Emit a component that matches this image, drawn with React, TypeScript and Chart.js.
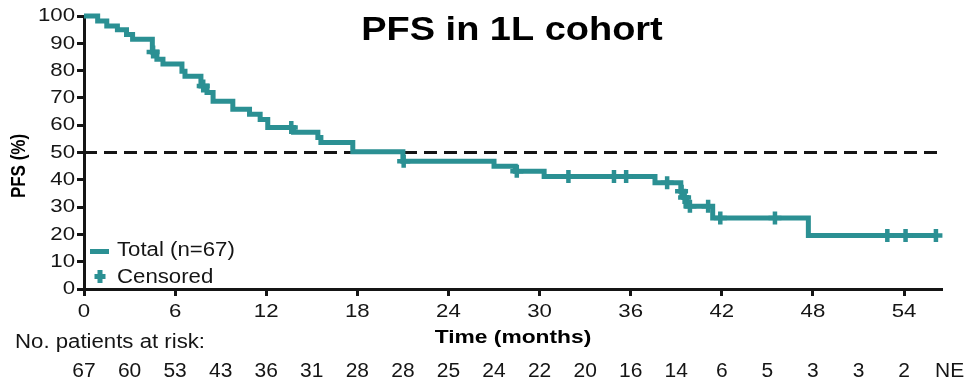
import React, { useEffect, useRef } from "react";
import { Chart, registerables } from "chart.js";

Chart.register(...registerables);

const TEAL = "#2b9093";
const INK = "#151515";
const FONT = '"Liberation Sans", Arial, sans-serif';

// Kaplan–Meier steps: month of each drop and PFS (%) right after it
const stepMonths = [0, 0.9, 1.5, 2.2, 2.8, 3.2, 4.5, 4.8, 5.2, 6.45, 6.65, 7.7, 8.1, 8.5, 9.8, 10.9, 11.6, 12.1, 13.8, 15.4, 15.6, 17.7, 21.0, 27.0, 28.4, 30.3, 37.6, 39.3, 39.5, 39.7, 41.4, 47.7, 56.1];
const stepPfs = [100, 98.2, 96.3, 95.0, 93.2, 91.5, 86.8, 84.2, 82.4, 79.8, 77.9, 74.4, 72.0, 68.8, 65.8, 64.0, 62.1, 59.2, 57.4, 55.5, 53.7, 50.3, 46.8, 45.0, 43.1, 41.2, 38.9, 35.8, 33.5, 30.3, 26.0, 19.6, 19.6];

// Censoring times (months)
const censorMonths = [4.55, 7.85, 13.65, 21.05, 28.5, 31.9, 34.9, 35.7, 38.4, 39.35, 39.55, 39.9, 41.1, 41.9, 45.5, 52.9, 54.1, 56.1];

const medianLine = 50;
const xTicks = [0, 6, 12, 18, 24, 30, 36, 42, 48, 54];
const yTicks = [0, 10, 20, 30, 40, 50, 60, 70, 80, 90, 100];

// Number at risk every 3 months
const riskMonths = [0, 3, 6, 9, 12, 15, 18, 21, 24, 27, 30, 33, 36, 39, 42, 45, 48, 51, 54, 57];
const riskCounts = ["67", "60", "53", "43", "36", "31", "28", "28", "25", "24", "22", "20", "16", "14", "6", "5", "3", "3", "2", "NE"];

const pfsAt = (t: number) => {
  let v = stepPfs[0];
  for (let i = 0; i < stepMonths.length; i++) if (stepMonths[i] <= t) v = stepPfs[i];
  return v;
};

// Draws a line of text slightly widened horizontally
function put(
  ctx: CanvasRenderingContext2D,
  text: string,
  x: number,
  y: number,
  font: string,
  align: "left" | "center" | "right",
  sx: number,
  color = INK
) {
  ctx.save();
  ctx.font = font;
  ctx.fillStyle = color;
  ctx.textBaseline = "middle";
  ctx.textAlign = "left";
  const w = ctx.measureText(text).width * sx;
  const left = align === "center" ? x - w / 2 : align === "right" ? x - w : x;
  ctx.translate(left, y);
  ctx.scale(sx, 1);
  ctx.fillText(text, 0, 0);
  ctx.restore();
}

const textPlugin = {
  id: "kmText",
  afterDraw(chart: any) {
    const ctx: CanvasRenderingContext2D = chart.ctx;
    const xs = chart.scales.x;
    const ys = chart.scales.y;
    const area = chart.chartArea;
    const tickFont = `19px ${FONT}`;
    const reg = `20px ${FONT}`;

    yTicks.forEach((v) => put(ctx, String(v), area.left - 9, ys.getPixelForValue(v), tickFont, "right", 1.17));
    xTicks.forEach((v) => put(ctx, String(v), xs.getPixelForValue(v), 312, tickFont, "center", 1.17));

    put(ctx, "PFS in 1L cohort", 512, 31, `bold 33px ${FONT}`, "center", 1.15, "#000");
    put(ctx, "Time (months)", (area.left + area.right) / 2, 338, `bold 19px ${FONT}`, "center", 1.2, "#000");

    // rotated y-axis title
    ctx.save();
    ctx.font = `bold 17px ${FONT}`;
    ctx.fillStyle = "#000";
    ctx.textAlign = "center";
    ctx.textBaseline = "middle";
    ctx.translate(19, 166);
    ctx.rotate(-Math.PI / 2);
    ctx.scale(1, 1.2);
    ctx.fillText("PFS (%)", 0, 0);
    ctx.restore();

    put(ctx, "No. patients at risk:", 15, 342, reg, "left", 1.11);
    riskMonths.forEach((m, i) => put(ctx, riskCounts[i], xs.getPixelForValue(m), 371, reg, "center", 1.05));

    // legend
    ctx.save();
    ctx.strokeStyle = TEAL;
    ctx.lineWidth = 5;
    ctx.beginPath();
    ctx.moveTo(90, 251.5);
    ctx.lineTo(109, 251.5);
    ctx.stroke();
    ctx.beginPath();
    ctx.moveTo(100, 270);
    ctx.lineTo(100, 283);
    ctx.moveTo(94.5, 276.5);
    ctx.lineTo(105.5, 276.5);
    ctx.stroke();
    ctx.restore();
    put(ctx, "Total (n=67)", 117, 250.5, reg, "left", 1.11);
    put(ctx, "Censored", 117, 277, reg, "left", 1.11);
  },
};

export default function App() {
  const ref = useRef<HTMLCanvasElement>(null);

  useEffect(() => {
    document.body.style.margin = "0";
    const kmPoints = stepMonths.map((m, i) => ({ x: m, y: stepPfs[i] }));
    const censorPoints = censorMonths.map((m) => ({ x: m, y: pfsAt(m) }));

    const axisCommon = {
      grid: {
        display: true,
        drawOnChartArea: false,
        drawTicks: true,
        tickLength: 7,
        tickWidth: 3,
        tickColor: INK,
      },
      border: { display: true, color: INK, width: 3 },
      ticks: { display: false },
    };

    const chart = new Chart(ref.current!, {
      type: "scatter",
      data: {
        datasets: [
          {
            label: "Censored",
            data: censorPoints,
            showLine: false,
            pointStyle: "cross",
            pointRadius: 6.5,
            pointBorderWidth: 4.5,
            pointBorderColor: TEAL,
            pointBackgroundColor: TEAL,
            clip: false,
          },
          {
            label: "Total (n=67)",
            data: kmPoints,
            showLine: true,
            stepped: "before",
            borderColor: TEAL,
            borderWidth: 5,
            pointRadius: 0,
            fill: false,
            clip: false,
          },
          {
            label: "Median",
            data: [
              { x: 0, y: medianLine },
              { x: 56.5, y: medianLine },
            ],
            showLine: true,
            borderColor: INK,
            borderWidth: 3,
            borderDash: [13, 7],
            pointRadius: 0,
            fill: false,
          },
        ],
      },
      options: {
        responsive: false,
        animation: false,
        events: [],
        layout: { padding: { left: 0, right: 22, top: 16, bottom: 0 } },
        plugins: {
          legend: { display: false },
          tooltip: { enabled: false },
          title: { display: false },
        },
        scales: {
          x: {
            type: "linear",
            min: 0,
            max: 56.5,
            ...axisCommon,
            afterBuildTicks: (s: any) => {
              s.ticks = xTicks.map((v) => ({ value: v }));
            },
            afterFit: (s: any) => {
              s.height = 96;
            },
          },
          y: {
            type: "linear",
            min: 0,
            max: 100,
            ...axisCommon,
            afterBuildTicks: (s: any) => {
              s.ticks = yTicks.map((v) => ({ value: v }));
            },
            afterFit: (s: any) => {
              s.width = 84;
            },
          },
        },
      } as any,
      plugins: [textPlugin],
    });
    return () => chart.destroy();
  }, []);

  return (
    <div style={{ width: 964, height: 385, background: "#fff" }}>
      <canvas ref={ref} width={964} height={385} style={{ display: "block" }} />
    </div>
  );
}
